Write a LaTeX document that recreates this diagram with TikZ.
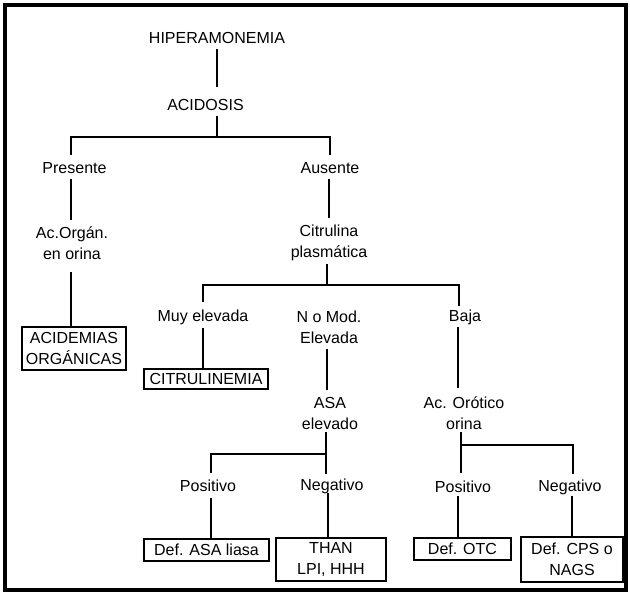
\documentclass[tikz,border=0pt]{standalone}
\usepackage{fontspec}
\setmainfont{Liberation Sans}
\begin{document}
\begin{tikzpicture}[x=1pt,y=-1pt,
  lbl/.style={inner sep=0pt, align=center, font=\fontsize{16}{21}\selectfont},
  bx/.style={draw, line width=1.8pt, inner sep=0pt, align=center, font=\fontsize{16}{21}\selectfont},
  ln/.style={line width=1.9pt}]
\useasboundingbox (0,0) rectangle (630,593);
% frame
\draw[line width=3.2pt] (5,5) rectangle (626,590);
% labels
\node[lbl] (hip) at (217,38) {HIPERAMONEMIA};
\node[lbl] (acid) at (205.5,105) {ACIDOSIS};
\node[lbl] (pres) at (74.5,168) {Presente};
\node[lbl] (aus) at (330,168) {Ausente};
\node[lbl] (acorg) at (72,243) {Ac.Orgán.\\en orina};
\node[lbl] (citr) at (329,242.5) {Citrulina\\plasmática};
\node[lbl] (muy) at (203,317) {Muy elevada};
\node[lbl] (nmod) at (329,327) {N o Mod.\\Elevada};
\node[lbl] (baja) at (465,317) {Baja};
\node[lbl] (asa) at (330,413.5) {ASA\\elevado};
\node[lbl] (acor) at (464,413) {Ac. Orótico\\orina};
\node[lbl] (pos1) at (208,486) {Positivo};
\node[lbl] (neg1) at (332,486) {Negativo};
\node[lbl] (pos2) at (463,487) {Positivo};
\node[lbl] (neg2) at (570,487) {Negativo};
% boxes
\node[bx, minimum width=104pt, minimum height=43pt] (acidem) at (74,348.5) {ACIDEMIAS\\ORGÁNICAS};
\node[bx, minimum width=124pt, minimum height=20pt] (citrul) at (206,379) {CITRULINEMIA};
\node[bx, minimum width=125pt, minimum height=22pt] (defasa) at (206.5,550) {Def. ASA liasa};
\node[bx, minimum width=110pt, minimum height=43pt] (than) at (331,559.5) {THAN\\LPI, HHH};
\node[bx, minimum width=97pt, minimum height=22pt] (otc) at (462.5,549) {Def. OTC};
\node[bx, minimum width=102pt, minimum height=45pt] (cps) at (572,559.5) {Def. CPS o\\NAGS};
% junction coordinates
\coordinate (j1) at (217,137);
\coordinate (j2) at (327,285);
\coordinate (j3) at (326,454);
\coordinate (j4) at (461,445);
% connectors
\draw[ln] (217,49) -- (217,87);
\draw[ln] (217,116) -- (j1);
\draw[ln] (71,155) -- (71,137) -- (330,137) -- (330,155);
\draw[ln] (71,179) -- (71,220);
\draw[ln] (329,179) -- (329,218);
\draw[ln] (71,272) -- (acidem.north -| 71,0);
\draw[ln] (327,264) -- (j2);
\draw[ln] (203,302) -- (203,285) -- (459,285) -- (459,306);
\draw[ln] (203,328) -- (citrul.north -| 203,0);
\draw[ln] (327,349) -- (327,390);
\draw[ln] (458,327) -- (458,388);
\draw[ln] (326,432) -- (326,474);
\draw[ln] (211,473) -- (211,454) -- (j3);
\draw[ln] (211,498) -- (defasa.north -| 211,0);
\draw[ln] (328,493) -- (than.north -| 328,0);
\draw[ln] (461,432) -- (461,473);
\draw[ln] (j4) -- (573,445) -- (573,474);
\draw[ln] (458,496) -- (otc.north -| 458,0);
\draw[ln] (572,496) -- (cps.north -| 572,0);
\end{tikzpicture}
\end{document}
